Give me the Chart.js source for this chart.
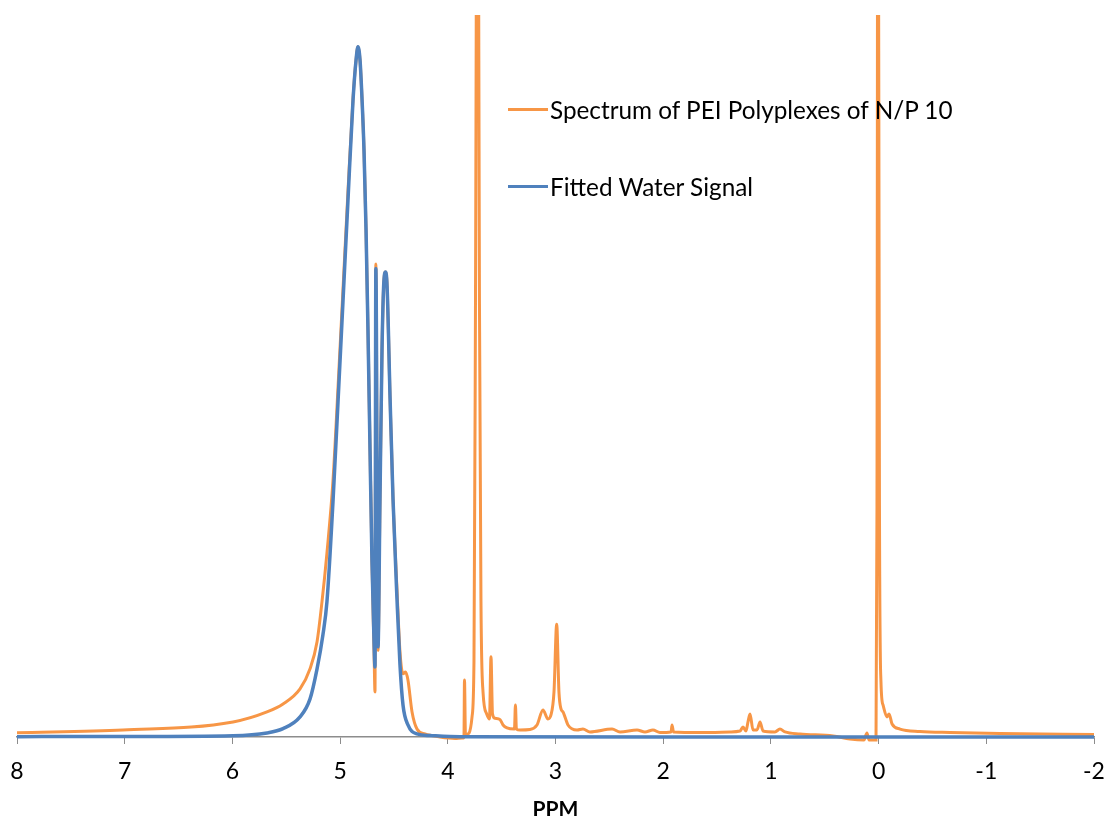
<!DOCTYPE html>
<html>
<head>
<meta charset="utf-8">
<title>PEI polyplex spectrum</title>
<script src="https://cdn.jsdelivr.net/npm/chart.js@4/dist/chart.umd.min.js"></script>
<style>
  body { margin: 0; background: #fff; }
  #wrap { position: relative; width: 1108px; height: 820px; }
  .legend-item {
    position: absolute;
    display: flex;
    align-items: center;
    font-family: Lato, 'Open Sans', sans-serif;
    font-size: 24.3px;
    color: #000;
    white-space: nowrap;
  }
  .legend-item .swatch { width: 40px; height: 3px; margin-right: 2px; }
</style>
</head>
<body>
<div id="wrap">
  <canvas id="chart" width="1108" height="820"></canvas>
</div>
<script>
// series labels + colours
const seriesLabels = ['Spectrum of PEI Polyplexes of N/P 10', 'Fitted Water Signal'];
const seriesColors = ['#F79646', '#4F81BD'];

// x axis ticks (ppm, reversed)
const tickValues = [8, 7, 6, 5, 4, 3, 2, 1, 0, -1, -2];

// measured spectrum (ppm, intensity in % of plot height; >100 runs off the top)
const spectrumPpm = [
  8.00, 7.016, 5.994, 5.679, 5.530, 5.372, 5.279, 5.214, 5.168, 5.122, 5.066, 5.019,
  4.973, 4.927, 4.880, 4.852, 4.834, 4.815, 4.796, 4.778, 4.759, 4.741, 4.722, 4.704,
  4.685, 4.676, 4.668, 4.648, 4.630, 4.611, 4.593, 4.578, 4.564, 4.536, 4.509, 4.472,
  4.444, 4.416, 4.393, 4.370, 4.332, 4.286, 4.212, 4.072, 3.933, 3.868, 3.850, 3.845,
  3.836, 3.803, 3.775, 3.757, 3.743, 3.724, 3.706, 3.692, 3.673, 3.639, 3.613, 3.599,
  3.585, 3.562, 3.515, 3.487, 3.450, 3.381, 3.372, 3.363, 3.330, 3.237, 3.172, 3.116,
  3.070, 3.042, 3.014, 2.989, 2.968, 2.949, 2.930, 2.884, 2.800, 2.745, 2.680, 2.475,
  2.401, 2.243, 2.169, 2.095, 2.030, 1.927, 1.918, 1.904, 1.658, 1.380, 1.287, 1.259,
  1.231, 1.213, 1.194, 1.166, 1.129, 1.101, 1.073, 0.962, 0.916, 0.869, 0.730, 0.423,
  0.266, 0.136, 0.108, 0.089, 0.024, 0.015, 0.006, -0.008, -0.022, -0.041, -0.078, -0.097,
  -0.125, -0.199, -0.384, -0.663, -1.127, -2.00
];
const spectrumIntensity = [
  0.60, 0.97, 2.08, 3.47, 4.58, 6.67, 9.44, 13.2, 18.75, 25.5, 35.5, 48.5,
  62.0, 75.5, 88.4, 93.75, 95.6, 93.75, 88.2, 81.25, 70.1, 56.25, 39.6, 24.3,
  12.0, 6.25, 65.5, 12.0, 32.6, 53.5, 63.2, 64.4, 62.5, 46.9, 33.1, 20.5,
  11.8, 8.75, 9.0, 7.9, 3.47, 1.11, 0.42, 0.0, -0.2, -0.15, -0.1, 7.9,
  0.3, 0.55, 2.8, 10.4, 60.0, 150, 60.0, 18.75, 6.25, 3.2, 2.5, 11.1,
  3.2, 2.6, 2.4, 1.67, 1.25, 1.1, 4.44, 1.1, 0.97, 1.04, 1.67, 3.75,
  2.5, 3.05, 6.25, 15.6, 6.25, 3.9, 3.47, 1.67, 0.97, 1.1, 0.7, 1.1,
  0.7, 0.97, 0.7, 0.97, 0.62, 0.7, 1.67, 0.7, 0.62, 0.7, 0.83, 1.39,
  0.83, 2.08, 3.2, 0.97, 0.97, 2.08, 0.83, 0.7, 1.1, 0.7, 0.42, 0.14,
  -0.28, -0.42, 0.55, -0.42, -0.42, 32.0, 150, 32.0, 7.6, 4.44, 2.78, 3.2,
  1.8, 1.1, 0.76, 0.62, 0.49, 0.35
];

// fitted water signal
const waterPpm = [
  8.00, 7.016, 5.994, 5.679, 5.530, 5.372, 5.279, 5.214, 5.159, 5.122, 5.066, 5.019,
  4.973, 4.927, 4.880, 4.852, 4.834, 4.815, 4.796, 4.778, 4.759, 4.741, 4.722, 4.704,
  4.685, 4.676, 4.668, 4.648, 4.630, 4.611, 4.593, 4.578, 4.564, 4.536, 4.509, 4.472,
  4.444, 4.416, 4.370, 4.286, 4.165, 3.887, 2.00, -2.00
];
const waterIntensity = [
  0.05, 0.07, 0.18, 0.56, 1.15, 2.78, 5.28, 9.44, 14.2, 18.75, 32.6, 46.5,
  60.4, 74.3, 88.2, 93.75, 95.6, 93.75, 88.2, 81.25, 70.1, 56.25, 39.6, 24.3,
  13.2, 9.7, 64.9, 12.5, 32.6, 53.5, 63.2, 64.4, 62.5, 46.9, 33.1, 19.2,
  10.0, 4.44, 1.67, 0.42, 0.2, 0.03, 0.0, 0.0
];

const toPoints = (xs, ys) => xs.map((x, i) => ({ x, y: ys[i] }));

const wrap = document.getElementById('wrap');
const legendTops = [109, 186];
seriesLabels.forEach((label, i) => {
  const item = document.createElement('div');
  item.className = 'legend-item';
  item.style.left = '508px';
  item.style.top = (legendTops[i] - 15) + 'px';
  item.style.height = '30px';
  item.innerHTML = `<span class="swatch" style="background:${seriesColors[i]}"></span><span>${label}</span>`;
  wrap.appendChild(item);
});

const axisGray = '#8c8c8c';

new Chart(document.getElementById('chart'), {
  type: 'line',
  data: {
    datasets: [
      {
        label: seriesLabels[0],
        data: toPoints(spectrumPpm, spectrumIntensity),
        borderColor: seriesColors[0],
        borderWidth: 3,
        pointRadius: 0,
        cubicInterpolationMode: 'monotone',
        clip: { left: 2, top: 0, right: 2, bottom: 6 },
        order: 2,
      },
      {
        label: seriesLabels[1],
        data: toPoints(waterPpm, waterIntensity),
        borderColor: seriesColors[1],
        borderWidth: 3.5,
        pointRadius: 0,
        cubicInterpolationMode: 'monotone',
        clip: { left: 2, top: 0, right: 2, bottom: 6 },
        order: 1,
      },
    ],
  },
  options: {
    responsive: false,
    animation: false,
    layout: { padding: { left: 17, right: 14, top: 15, bottom: 0 } },
    plugins: {
      legend: { display: false },
      tooltip: { enabled: false },
    },
    scales: {
      x: {
        type: 'linear',
        min: -2,
        max: 8,
        reverse: true,
        afterBuildTicks: (axis) => {
          axis.ticks = tickValues.map((v) => ({ value: v }));
        },
        // labels overhang the plot edges; don't let them shrink it
        afterFit: (axis) => {
          axis.paddingLeft = 0;
          axis.paddingRight = 0;
        },
        ticks: {
          callback: (v) => String(v),
          color: '#000',
          padding: 16,
          maxRotation: 0,
          autoSkip: false,
          font: { family: 'Lato, "Open Sans", sans-serif', size: 23, lineHeight: 1.0 },
        },
        grid: {
          drawOnChartArea: false,
          color: axisGray,
          tickLength: 7,
          tickWidth: 1,
        },
        border: { color: axisGray, width: 1.5 },
        title: {
          display: true,
          text: 'PPM',
          color: '#000',
          padding: { top: 0, bottom: 0 },
          font: { family: 'Lato, "Open Sans", sans-serif', size: 21, weight: 'bold', lineHeight: 1.0 },
        },
      },
      y: {
        display: false,
        min: 0,
        max: 100,
      },
    },
  },
});
</script>
</body>
</html>
